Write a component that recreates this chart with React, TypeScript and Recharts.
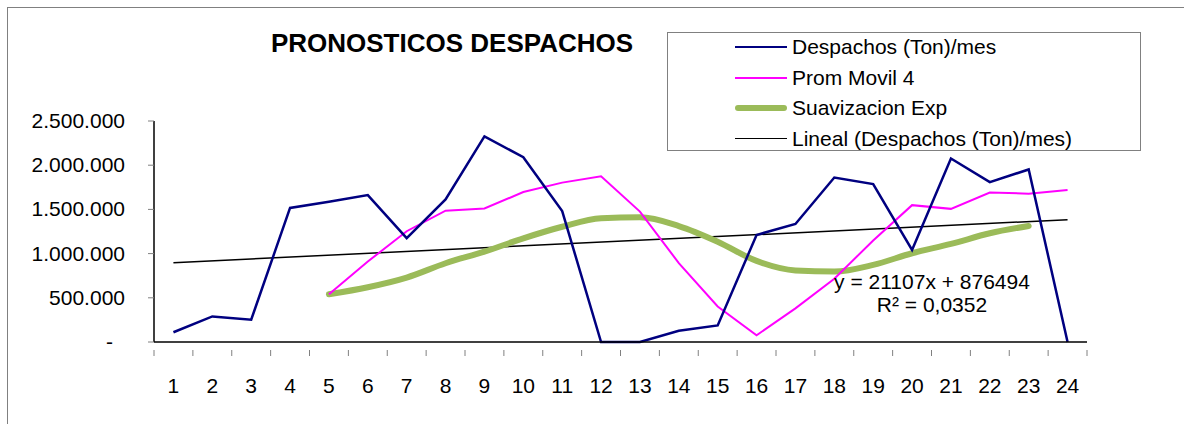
import React from 'react';
import { LineChart, Line, XAxis, YAxis, Legend } from 'recharts';

const meses = ['1', '2', '3', '4', '5', '6', '7', '8', '9', '10', '11', '12',
  '13', '14', '15', '16', '17', '18', '19', '20', '21', '22', '23', '24'];

const despachos = [110000, 289000, 252000, 1517000, 1586000, 1662000, 1175000, 1613000,
  2327000, 2090000, 1481000, 0, 0, 127000, 187000, 1211000, 1335000, 1861000,
  1786000, 1041000, 2076000, 1809000, 1952000, 0];

const promMovil = [null, null, null, null, 541000, 910000, 1253000, 1485000, 1510000,
  1696000, 1803000, 1875000, 1475000, 893000, 402000, 76000, 381000, 715000,
  1149000, 1548000, 1506000, 1691000, 1678000, 1720000];

const suavizacion = [null, null, null, null, 541000, 620000, 729000, 891000, 1022000,
  1173000, 1304000, 1399000, 1410000, 1312000, 1135000, 917000, 810000, 797000,
  872000, 1004000, 1109000, 1230000, 1312000, null];

// tendencia lineal: y = 21107x + 876494 (solo extremos, la recta se traza entre ellos)
const tendencia = [897601, null, null, null, null, null, null, null, null, null, null, null,
  null, null, null, null, null, null, null, null, null, null, null, 1383062];

const yTicks = [0, 500000, 1000000, 1500000, 2000000, 2500000];

const data = meses.map((m, i) => ({
  mes: m,
  despachos: despachos[i],
  prom: promMovil[i],
  suav: suavizacion[i],
  lineal: tendencia[i],
}));

const W = 1184;
const H = 424;
const M = { top: 121, right: 97, bottom: 40, left: 0 };
const Y_W = 154;
const PLOT_W = W - M.right - Y_W;
const BAND = PLOT_W / meses.length;
const FONT = 'Liberation Sans, Arial, sans-serif';

const fmt = (v: number) => v.toString().replace(/\B(?=(\d{3})+(?!\d))/g, '.');

function YTick({ x, y, payload }: any) {
  const v = payload.value;
  return (
    <text x={v === 0 ? x - 12 : x} y={y} dy={7} textAnchor="end"
      fontSize={21} fontFamily={FONT} fill="#000">
      {v === 0 ? '-' : fmt(v)}
    </text>
  );
}

function XTick({ x, y, payload, index }: any) {
  const last = index === meses.length - 1;
  return (
    <g>
      <line x1={x - BAND / 2} x2={x - BAND / 2} y1={y} y2={y + 6} stroke="#808080" />
      {last && <line x1={x + BAND / 2} x2={x + BAND / 2} y1={y} y2={y + 6} stroke="#808080" />}
      <text x={x} y={y + 43} textAnchor="middle" fontSize={21} fontFamily={FONT} fill="#000">
        {payload.value}
      </text>
    </g>
  );
}

const items = [
  { label: 'Despachos (Ton)/mes', color: '#000080', w: 2.5 },
  { label: 'Prom Movil 4', color: '#ff00ff', w: 2 },
  { label: 'Suavizacion Exp', color: '#9bbb59', w: 6 },
  { label: 'Lineal (Despachos (Ton)/mes)', color: '#000', w: 1.5 },
];

function LegendBox() {
  return (
    <div style={{
      position: 'relative', width: 474, height: 119, border: '1px solid #808080', background: '#fff',
      boxSizing: 'border-box', fontFamily: FONT, fontSize: 21,
    }}>
      {items.map((it, i) => (
        <div key={i} style={{ position: 'absolute', left: 67, top: 0 + i * 30.5, height: 28, display: 'flex', alignItems: 'center' }}>
          <div style={{ width: 52, height: it.w, background: it.color, borderRadius: it.w > 3 ? 3 : 0 }} />
          <span style={{ marginLeft: 5, color: '#000', whiteSpace: 'nowrap' }}>{it.label}</span>
        </div>
      ))}
    </div>
  );
}

export default function App() {
  return (
    <div style={{ position: 'absolute', left: 0, top: 0, width: W, height: H, background: '#fff', overflow: 'hidden' }}>
      <div style={{ position: 'absolute', left: 7, top: 7, width: W + 20, height: H + 20, borderLeft: '1px solid #808080', borderTop: '1px solid #808080' }} />
      <div style={{ position: 'absolute', left: 0, top: 0 }}>
        <LineChart width={W} height={H} data={data} margin={M}>
          <XAxis dataKey="mes" tick={<XTick />} tickLine={false} axisLine={{ stroke: '#000', strokeWidth: 1.5 }}
            interval={0} height={42} padding={{ left: BAND / 2, right: BAND / 2 }} />
          <YAxis domain={[0, 2500000]} ticks={yTicks} width={Y_W} tick={<YTick />}
            tickSize={6} tickMargin={23} tickLine={{ stroke: '#808080' }} axisLine={{ stroke: '#000', strokeWidth: 1.5 }} />
          <Legend content={<LegendBox />} layout="horizontal" verticalAlign="middle" align="center"
            wrapperStyle={{ position: 'absolute', left: 667, top: 32, width: 474, height: 119 }} />
          <Line dataKey="lineal" stroke="#000" strokeWidth={1.5} dot={false} connectNulls isAnimationActive={false} />
          <Line dataKey="suav" type="monotone" stroke="#9bbb59" strokeWidth={6} strokeLinecap="round" dot={false} isAnimationActive={false} />
          <Line dataKey="prom" stroke="#ff00ff" strokeWidth={2} dot={false} isAnimationActive={false} />
          <Line dataKey="despachos" stroke="#000080" strokeWidth={2.5} dot={false} isAnimationActive={false} />
        </LineChart>
      </div>
      <div style={{ position: 'absolute', left: 252, width: 400, top: 27, textAlign: 'center', fontFamily: FONT, fontWeight: 'bold', fontSize: 26, lineHeight: '32px' }}>
        PRONOSTICOS DESPACHOS
      </div>
      <div style={{ position: 'absolute', left: 782, width: 300, top: 270, textAlign: 'center', fontFamily: FONT, fontSize: 21, lineHeight: '23px' }}>
        <div>y = 21107x + 876494</div>
        <div>R² = 0,0352</div>
      </div>
    </div>
  );
}
